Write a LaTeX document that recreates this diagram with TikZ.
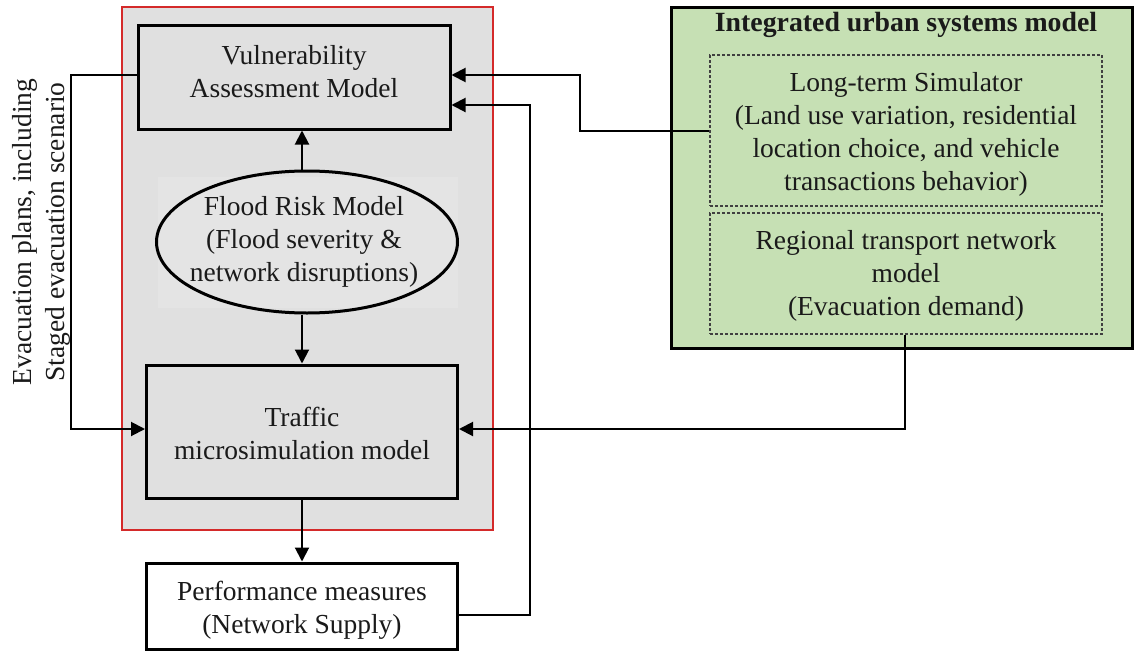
\documentclass[tikz,border=0pt]{standalone}
\usepackage{fontspec}
\setmainfont{Liberation Serif}
\usetikzlibrary{arrows.meta,shapes.geometric}
\definecolor{framegray}{HTML}{E0E0E0}
\definecolor{innergray}{HTML}{E4E4E4}
\definecolor{framered}{HTML}{D42A2A}
\definecolor{urbgreen}{HTML}{C6E0B4}
\definecolor{txt}{HTML}{1A1A1A}
\tikzset{
  txtfont/.style={font=\fontsize{27.5}{33}\selectfont, text=txt, align=center, inner sep=0pt},
  modelbox/.style={draw=black, line width=3pt, rectangle, inner sep=0pt},
  dashbox/.style={draw=black!75, line width=1.1pt, dash pattern=on 3pt off 2pt, rectangle, inner sep=0pt},
  conn/.style={draw=black, line width=2pt, -{Triangle[length=14pt,width=14pt]}},
}
\begin{document}
\begin{tikzpicture}[x=1pt,y=-1pt]
\useasboundingbox (0,0) rectangle (1135,653);
% red frame with gray fill
\draw[framered, line width=2pt, fill=framegray] (122,7) rectangle (493,530);
% faint panel behind ellipse
\fill[innergray] (158,177) rectangle (458,308);
% green integrated box
\draw[black, line width=3pt, fill=urbgreen] (671,7) rectangle (1132,348);
\node[txtfont, font=\fontsize{27.8}{33}\selectfont\bfseries] (title) at (906,25) {Integrated urban systems model};
\node[dashbox, minimum width=392pt, minimum height=151pt] (lts) at (906,130.5) {};
\node[txtfont] (ltstxt) at (906,134)
  {Long-term Simulator\\(Land use variation, residential\\location choice, and vehicle\\transactions behavior)};
\node[dashbox, minimum width=392pt, minimum height=121pt] (rtn) at (906,273.5) {};
\node[txtfont] (rtntxt) at (906,276)
  {Regional transport network\\model\\(Evacuation demand)};
% left models
\node[modelbox, fill=framegray, minimum width=312pt, minimum height=104pt] (vuln) at (294,77) {};
\node[txtfont] (vulntxt) at (294,72) {Vulnerability\\Assessment Model};
\node[draw=black, line width=3pt, ellipse, minimum width=301pt, minimum height=142pt, inner sep=0pt] (flood) at (307,242) {};
\node[txtfont] (floodtxt) at (304,242)
  {Flood Risk Model\\(Flood severity \&\\network disruptions)};
\node[modelbox, fill=framegray, minimum width=311pt, minimum height=133pt] (traffic) at (302,431.5) {};
\node[txtfont] (traffictxt) at (302,433) {Traffic\\microsimulation model};
\node[modelbox, fill=white, minimum width=311pt, minimum height=86pt] (perf) at (302,606) {};
\node[txtfont] (perftxt) at (302,610) {Performance measures\\(Network Supply)};
% rotated side label
\node[txtfont, rotate=90] (evac) at (41,232)
  {Evacuation plans, including\\Staged evacuation scenario};
% helper coordinates
\coordinate (ax) at (302,0);
\coordinate (k1) at (580,75);
\coordinate (k2) at (530,105);
\coordinate (k3) at (905,429);
\coordinate (k4) at (71,75);
\coordinate (k5) at (0,615);
% connectors
\draw[conn] (flood.north -| ax) -- (vuln.south -| ax);
\draw[conn] (flood.south -| ax) -- (traffic.north -| ax);
\draw[conn] (traffic.south -| ax) -- (perf.north -| ax);
\draw[conn] (lts.west) -| (k1) -- (vuln.east |- k1);
\draw[conn] (perf.east |- k5) -| (k2) -- (vuln.east |- k2);
\draw[conn] (rtn.south -| k3) -- (k3) -- (traffic.east |- k3);
\draw[conn] (vuln.west |- k4) -- (k4) |- (traffic.west |- k3);
\end{tikzpicture}
\end{document}
